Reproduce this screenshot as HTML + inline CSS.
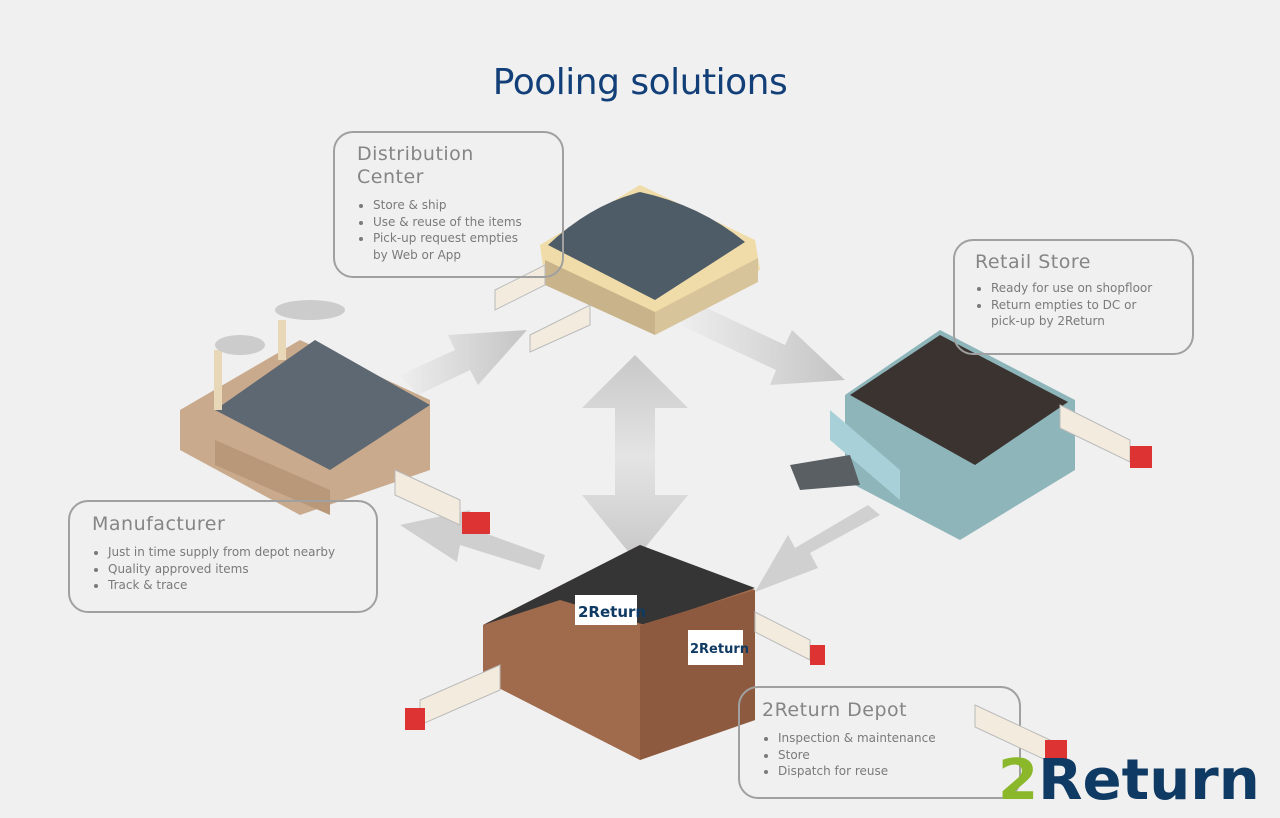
<!DOCTYPE html>
<html><head><meta charset="utf-8"><style>
body{margin:0;width:1280px;height:818px;background:#f0f0f0;position:relative;overflow:hidden;font-family:"DejaVu Sans","Liberation Sans",sans-serif}
h1{position:absolute;left:0;width:1280px;top:62px;margin:0;text-align:center;font:36px "DejaVu Sans","Liberation Sans",sans-serif;color:#123f78;letter-spacing:-0.5px}
.box{position:absolute;border:2px solid #a0a0a0;border-radius:20px;box-sizing:border-box;color:#7a7a7a}
.box .t{font-size:19px;line-height:23px;color:#858585;letter-spacing:0.5px}
.box ul{margin:8px 0 0 0;padding:0 0 0 16px;font-size:12px;line-height:16.5px;color:#7a7a7a}
.logo{position:absolute;left:998px;top:748px;font:bold 56px "DejaVu Sans",sans-serif;color:#0f3a63;letter-spacing:0px;transform-origin:0 0;transform:scaleX(1.03)}
.logo b{color:#8ab82a}
</style></head><body>
<h1>Pooling solutions</h1>
<svg width="1280" height="818" style="position:absolute;left:0;top:0">
<defs>
<linearGradient id="g1" x1="0" y1="0" x2="1" y2="0"><stop offset="0" stop-color="#eee"/><stop offset="1" stop-color="#c4c4c4"/></linearGradient>
<linearGradient id="g2" x1="0" y1="0" x2="0" y2="1"><stop offset="0" stop-color="#c8c8c8"/><stop offset=".5" stop-color="#e4e4e4"/><stop offset="1" stop-color="#c8c8c8"/></linearGradient>
</defs>
<polygon points="400,375 455,350 448,335 527,330 478,385 470,370 418,395" fill="url(#g1)"/>
<polygon points="690,300 785,345 792,330 845,380 770,385 776,370 680,325" fill="url(#g1)"/>
<polygon points="635,355 688,408 655,408 655,495 688,495 635,560 582,495 615,495 615,408 582,408" fill="url(#g2)"/>
<polygon points="880,515 810,553 818,568 755,592 788,535 795,548 868,505" fill="#d0d0d0"/>
<polygon points="540,570 460,545 457,562 400,525 470,510 468,527 545,555" fill="#cfcfcf"/>
<!-- DC -->
<polygon points="540,245 640,185 755,240 760,270 660,330 545,280" fill="#f0dca8"/>
<path d="M548,245 Q590,205 640,192 Q700,205 745,242 L655,300 Z" fill="#4e5c68"/>
<polygon points="545,260 655,312 655,335 545,285" fill="#c9b38a"/>
<polygon points="655,312 758,258 758,282 655,335" fill="#d8c49a"/>
<!-- factory -->
<polygon points="180,410 300,340 430,400 430,470 300,515 180,450" fill="#c9aa8c"/>
<polygon points="215,410 315,340 430,405 330,470" fill="#5e6873"/>
<polygon points="215,440 330,490 330,515 215,465" fill="#b9987a"/>
<rect x="214" y="350" width="8" height="60" fill="#e8d8b8"/><rect x="278" y="320" width="8" height="40" fill="#e8d8b8"/>
<ellipse cx="240" cy="345" rx="25" ry="10" fill="#ccc"/><ellipse cx="310" cy="310" rx="35" ry="10" fill="#ccc"/>
<!-- retail -->
<polygon points="845,395 940,330 1075,400 1075,470 960,540 845,480" fill="#8db5ba"/>
<polygon points="850,395 940,335 1068,402 975,465" fill="#3a3330"/>
<polygon points="830,410 900,470 900,500 830,440" fill="#a8d0d8"/>
<polygon points="790,465 850,455 860,485 800,490" fill="#5a5f63"/>
<!-- depot -->
<polygon points="483,625 640,545 755,590 755,720 640,760 483,680" fill="#a06a4c"/>
<polygon points="483,625 640,545 755,588 645,625 560,600" fill="#353535"/>
<polygon points="640,625 755,590 755,720 640,760" fill="#8d5a40"/>
<rect x="575" y="595" width="62" height="30" fill="#fff"/><text x="578" y="617" font-size="15" font-weight="bold" fill="#0f3a63">2Return</text>
<rect x="688" y="630" width="55" height="35" fill="#fff"/><text x="690" y="653" font-size="13" font-weight="bold" fill="#0f3a63">2Return</text>
<g fill="#f2ebde" stroke="#bbb" stroke-width="1">
<polygon points="395,470 460,500 460,525 395,495"/><polygon points="495,290 545,265 545,285 495,310"/><polygon points="530,335 590,305 590,325 530,352"/>
<polygon points="1060,405 1130,440 1130,462 1060,428"/><polygon points="755,612 810,640 810,660 755,632"/>
<polygon points="420,700 500,665 500,690 420,725"/>
</g>
<g fill="#d33">
<rect x="462" y="512" width="28" height="22"/><rect x="1130" y="446" width="22" height="22"/><rect x="810" y="645" width="15" height="20"/><rect x="405" y="708" width="20" height="22"/>
</g>
</svg>
<div class="box" style="left:333px;top:131px;width:231px;height:147px;padding:10px 0 0 22px"><div class="t">Distribution<br>Center</div><ul><li>Store &amp; ship</li><li>Use &amp; reuse of the items</li><li>Pick-up request empties<br>by Web or App</li></ul></div>
<div class="box" style="left:953px;top:239px;width:241px;height:116px;padding:10px 0 0 20px"><div class="t">Retail Store</div><ul style="margin-top:6px"><li>Ready for use on shopfloor</li><li>Return empties to DC or<br>pick-up by 2Return</li></ul></div>
<div class="box" style="left:68px;top:500px;width:310px;height:113px;padding:11px 0 0 22px"><div class="t">Manufacturer</div><ul><li>Just in time supply from depot nearby</li><li>Quality approved items</li><li>Track &amp; trace</li></ul></div>
<div class="box" style="left:738px;top:686px;width:283px;height:113px;padding:11px 0 0 22px"><div class="t">2Return Depot</div><ul><li>Inspection &amp; maintenance</li><li>Store</li><li>Dispatch for reuse</li></ul></div>
<svg width="1280" height="818" style="position:absolute;left:0;top:0">
<polygon points="975,705 1050,740 1050,762 975,727" fill="#f2ebde" stroke="#bbb"/><rect x="1045" y="740" width="22" height="22" fill="#d33"/>
</svg>
<div class="logo"><b>2</b>Return</div>
</body></html>
